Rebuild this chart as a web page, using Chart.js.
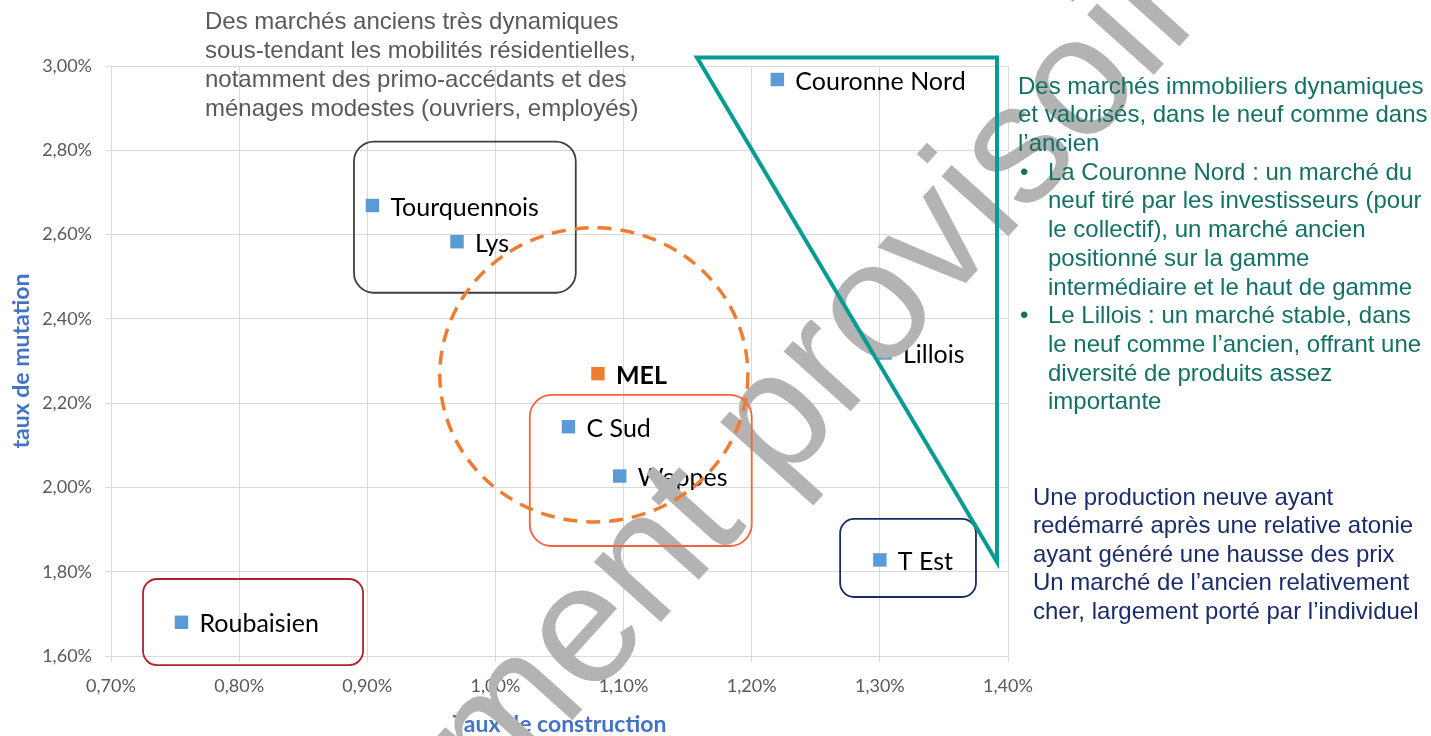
<!DOCTYPE html>
<html lang="fr">
<head>
<meta charset="utf-8">
<title>Taux de mutation / taux de construction</title>
<script src="https://cdn.jsdelivr.net/npm/chart.js@4.4.1/dist/chart.umd.min.js"></script>
<style>
  html, body { margin: 0; padding: 0; background: #fff; }
  #wrap { width: 1431px; height: 736px; }
</style>
</head>
<body>
<div id="wrap"><canvas id="marketChart" width="1431" height="736"></canvas></div>
<script>
// Secteurs et valeurs (en %)
const sectors = ["Couronne Nord", "Tourquennois", "Lys", "MEL", "C Sud", "Weppes", "Lillois", "T Est", "Roubaisien"];
const constructionRate = [1.22, 0.904, 0.97, 1.08, 1.057, 1.097, 1.304, 1.30, 0.755];
const mutationRate = [2.968, 2.669, 2.583, 2.270, 2.144, 2.027, 2.319, 1.828, 1.680];

// Graduations des axes
const xTickValues = [0.70, 0.80, 0.90, 1.00, 1.10, 1.20, 1.30, 1.40];
const yTickValues = [1.60, 1.80, 2.00, 2.20, 2.40, 2.60, 2.80, 3.00];

document.addEventListener("DOMContentLoaded", () => {
    const LABEL_FONT = "Lato, 'DejaVu Sans', sans-serif";
    const TEXT_FONT = "'Liberation Sans', Arial, sans-serif";

    const pct = v => v.toFixed(2).replace('.', ',') + '%';

    // Groupes dessinés sur le graphique (coordonnées en valeurs d'axes)
    const groupBoxes = [
        { x0: 0.8896, x1: 1.0627, y0: 2.8207, y1: 2.462, color: '#3f3f3f', radius: 20 },
        { x0: 1.0268, x1: 1.2000, y0: 2.2197, y1: 1.861, color: '#f4623e', radius: 22 },
        { x0: 0.7250, x1: 0.8967, y0: 1.7827, y1: 1.5784, color: '#b4202e', radius: 14 },
        { x0: 1.2690, x1: 1.3750, y0: 1.9252, y1: 1.740, color: '#1b2a68', radius: 14 }
    ];
    const melCircle = { cx: 1.0768, cy: 2.2672, rx: 0.1202, ry: 0.349 };
    const tealTriangle = [[1.1573, 3.0202], [1.3914, 3.0202], [1.3914, 1.823]];

    // Textes de commentaire
    const topText = [
        "Des marchés anciens très dynamiques",
        "sous-tendant les mobilités résidentielles,",
        "notamment des primo-accédants et des",
        "ménages modestes (ouvriers, employés)"
    ];
    const tealText = [
        { t: "Des marchés immobiliers dynamiques", indent: false },
        { t: "et valorisés, dans le neuf comme dans", indent: false },
        { t: "l’ancien", indent: false },
        { t: "La Couronne Nord : un marché du", indent: true, bullet: true },
        { t: "neuf tiré par les investisseurs (pour", indent: true },
        { t: "le collectif), un marché ancien", indent: true },
        { t: "positionné sur la gamme", indent: true },
        { t: "intermédiaire et le haut de gamme", indent: true },
        { t: "Le Lillois : un marché stable, dans", indent: true, bullet: true },
        { t: "le neuf comme l’ancien, offrant une", indent: true },
        { t: "diversité de produits assez", indent: true },
        { t: "importante", indent: true }
    ];
    const navyText = [
        "Une production neuve ayant",
        "redémarré après une relative atonie",
        "ayant généré une hausse des prix",
        "Un marché de l’ancien relativement",
        "cher, largement porté par l’individuel"
    ];

    function roundRect(ctx, x, y, w, h, r) {
        ctx.beginPath();
        ctx.moveTo(x + r, y);
        ctx.arcTo(x + w, y, x + w, y + h, r);
        ctx.arcTo(x + w, y + h, x, y + h, r);
        ctx.arcTo(x, y + h, x, y, r);
        ctx.arcTo(x, y, x + w, y, r);
        ctx.closePath();
    }

    // Étiquettes des points, filigrane, formes et textes
    const overlayPlugin = {
        id: 'overlay',
        afterDatasetsDraw(chart) {
            const ctx = chart.ctx;
            const xs = chart.scales.x, ys = chart.scales.y;
            const meta = chart.getDatasetMeta(0);

            // 1. étiquettes
            ctx.save();
            ctx.textBaseline = 'middle';
            ctx.fillStyle = '#000';
            meta.data.forEach((pt, i) => {
                const bold = sectors[i] === 'MEL';
                ctx.font = (bold ? 'bold ' : '') + '25px ' + LABEL_FONT;
                ctx.fillText(sectors[i], pt.x + 18, pt.y + 2);
            });
            ctx.restore();

            // 2. filigrane
            ctx.save();
            ctx.translate(751, 522);
            ctx.rotate(-48 * Math.PI / 180);
            ctx.font = '170px ' + TEXT_FONT;
            ctx.fillStyle = '#b3b3b3';
            ctx.textAlign = 'center';
            ctx.fillText('Document provisoire', 0, 0);
            ctx.restore();

            // 3. cadres arrondis
            ctx.save();
            ctx.lineWidth = 1.8;
            groupBoxes.forEach(b => {
                const x0 = xs.getPixelForValue(b.x0), x1 = xs.getPixelForValue(b.x1);
                const y0 = ys.getPixelForValue(b.y0), y1 = ys.getPixelForValue(b.y1);
                ctx.strokeStyle = b.color;
                roundRect(ctx, x0, y0, x1 - x0, y1 - y0, b.radius);
                ctx.stroke();
            });
            ctx.restore();

            // 4. cercle pointillé MEL
            ctx.save();
            const cx = xs.getPixelForValue(melCircle.cx), cy = ys.getPixelForValue(melCircle.cy);
            const rx = xs.getPixelForValue(melCircle.cx + melCircle.rx) - cx;
            const ry = cy - ys.getPixelForValue(melCircle.cy + melCircle.ry);
            ctx.strokeStyle = '#ed7d31';
            ctx.lineWidth = 3.5;
            ctx.setLineDash([14, 9]);
            ctx.beginPath();
            ctx.ellipse(cx, cy, rx, ry, 0, 0, Math.PI * 2);
            ctx.stroke();
            ctx.restore();

            // 5. triangle
            ctx.save();
            ctx.strokeStyle = '#079c93';
            ctx.lineWidth = 4;
            ctx.beginPath();
            tealTriangle.forEach(([vx, vy], i) => {
                const px = xs.getPixelForValue(vx), py = ys.getPixelForValue(vy);
                if (i === 0) ctx.moveTo(px, py); else ctx.lineTo(px, py);
            });
            ctx.closePath();
            ctx.stroke();
            ctx.restore();

            // 6. textes
            ctx.save();
            ctx.textBaseline = 'middle';
            ctx.font = '24px ' + TEXT_FONT;
            ctx.fillStyle = '#595959';
            topText.forEach((t, i) => ctx.fillText(t, 205, 22 + i * 29));

            ctx.fillStyle = '#127064';
            tealText.forEach((l, i) => {
                const y = 87 + i * 28.7;
                if (l.bullet) ctx.fillText('•', 1020, y);
                ctx.fillText(l.t, l.indent ? 1048 : 1018, y);
            });

            ctx.fillStyle = '#1b2c6b';
            navyText.forEach((t, i) => ctx.fillText(t, 1033, 498 + i * 28.5));
            ctx.restore();
        }
    };

    const ctx = document.getElementById('marketChart').getContext('2d');

    const marketChart = new Chart(ctx, {
        type: 'scatter',
        data: {
            datasets: [{
                label: 'Secteurs',
                data: sectors.map((s, i) => ({ x: constructionRate[i], y: mutationRate[i] })),
                pointStyle: 'rect',
                pointRadius: 9.5,
                pointHoverRadius: 9.5,
                pointBorderWidth: 0,
                pointBackgroundColor: sectors.map(s => s === 'MEL' ? '#ed7d31' : '#5b9bd5'),
                pointBorderColor: sectors.map(s => s === 'MEL' ? '#ed7d31' : '#5b9bd5')
            }]
        },
        options: {
            responsive: false,
            animation: false,
            devicePixelRatio: 1,
            layout: { padding: { left: 0, right: 423, top: 66, bottom: 0 } },
            plugins: {
                legend: { display: false },
                tooltip: { enabled: false }
            },
            scales: {
                x: {
                    type: 'linear',
                    min: 0.7,
                    max: 1.4,
                    afterBuildTicks: s => { s.ticks = xTickValues.map(v => ({ value: v })); },
                    afterFit: s => { s.height = 80; },
                    grid: { color: '#d9d9d9', tickLength: 6 },
                    border: { color: '#d9d9d9' },
                    ticks: {
                        callback: v => pct(v),
                        color: '#595959',
                        font: { family: LABEL_FONT, size: 18 },
                        padding: 13,
                        maxRotation: 0
                    },
                    title: {
                        display: true,
                        text: 'Taux de construction',
                        color: '#4472c4',
                        font: { family: LABEL_FONT, size: 23, weight: 'bold', lineHeight: 1 },
                        padding: { top: 0, bottom: 0 }
                    }
                },
                y: {
                    type: 'linear',
                    min: 1.6,
                    max: 3.0,
                    afterBuildTicks: s => { s.ticks = yTickValues.map(v => ({ value: v })); },
                    afterFit: s => { s.width = 111; },
                    grid: { color: '#d9d9d9', tickLength: 6 },
                    border: { color: '#d9d9d9' },
                    ticks: {
                        callback: v => pct(v),
                        color: '#595959',
                        font: { family: LABEL_FONT, size: 18 },
                        padding: 13
                    },
                    title: {
                        display: true,
                        text: 'taux de mutation',
                        color: '#4472c4',
                        font: { family: LABEL_FONT, size: 23, weight: 'bold', lineHeight: 1 },
                        padding: { top: 10, bottom: 0 }
                    }
                }
            }
        },
        plugins: [overlayPlugin]
    });
});
</script>
</body>
</html>
